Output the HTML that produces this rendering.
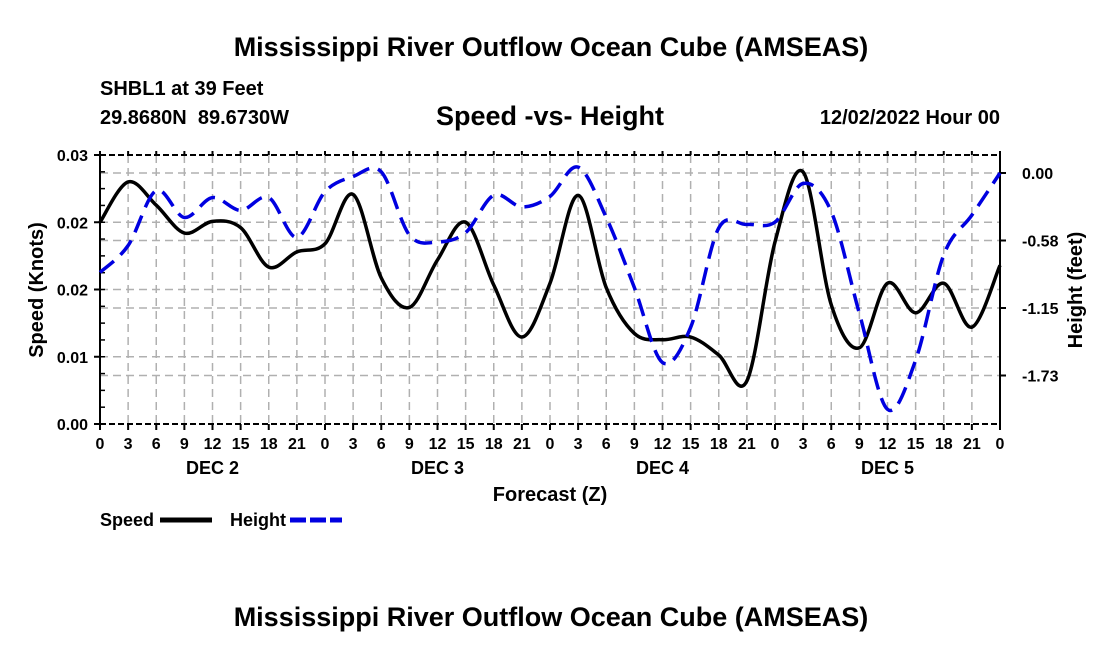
<!DOCTYPE html>
<html><head><meta charset="utf-8"><style>
body{margin:0;background:#fff;}
svg text{font-family:"Liberation Sans",Arial,sans-serif;font-weight:bold;fill:#000;}
</style></head><body>
<svg width="1100" height="650" viewBox="0 0 1100 650" xmlns="http://www.w3.org/2000/svg">
<text x="551" y="56" font-size="27" text-anchor="middle">Mississippi River Outflow Ocean Cube (AMSEAS)</text>
<text x="100" y="95" font-size="20">SHBL1 at 39 Feet</text>
<text x="100" y="124" font-size="20">29.8680N&#160;&#160;89.6730W</text>
<text x="550" y="125" font-size="27" text-anchor="middle">Speed -vs- Height</text>
<text x="1000" y="124" font-size="20" text-anchor="end">12/02/2022 Hour 00</text>
<g id="grid"></g>
<g id="axes"></g>
<g id="series"></g>
<text x="550" y="501" font-size="20" text-anchor="middle">Forecast (Z)</text>
<text transform="translate(43,290) rotate(-90)" font-size="20" text-anchor="middle">Speed (Knots)</text>
<text transform="translate(1082,290) rotate(-90)" font-size="20" text-anchor="middle">Height (feet)</text>
<g><text x="100" y="526" font-size="18">Speed</text><line x1="160" y1="520" x2="212" y2="520" stroke="#000" stroke-width="5"/></g>
<g><text x="230" y="526" font-size="18">Height</text><line x1="290" y1="520" x2="342" y2="520" stroke="#0000e0" stroke-width="5" stroke-dasharray="16,4"/></g>
<text x="551" y="626" font-size="27" text-anchor="middle">Mississippi River Outflow Ocean Cube (AMSEAS)</text>
</svg>
<script>
const hours=[0,3,6,9,12,15,18,21,24,27,30,33,36,39,42,45,48,51,54,57,60,63,66,69,72,75,78,81,84,87,90,93,96];
const speed=[0.0225,0.0270,0.0244,0.0213,0.0226,0.0219,0.0175,0.0192,0.0201,0.0256,0.0163,0.0130,0.0183,0.0225,0.0155,0.0097,0.0157,0.0255,0.0152,0.0101,0.0094,0.0097,0.0077,0.0048,0.0203,0.0281,0.0133,0.0085,0.0157,0.0124,0.0157,0.0108,0.0177];
const height=[-0.85,-0.62,-0.15,-0.38,-0.21,-0.32,-0.21,-0.55,-0.16,-0.03,0.01,-0.53,-0.59,-0.51,-0.19,-0.29,-0.2,0.05,-0.38,-0.98,-1.62,-1.32,-0.47,-0.44,-0.42,-0.09,-0.33,-1.2,-2.02,-1.6,-0.70,-0.36,0.0];
const leftTicks=[0,0.0075,0.015,0.0225,0.03];
const leftLabels=["0.00","0.01","0.02","0.02","0.03"];
const rightTicks=[0,-0.577,-1.154,-1.731];
const rightLabels=["0.00","-0.58","-1.15","-1.73"];
const dayLabels=["DEC 2","DEC 3","DEC 4","DEC 5"];
const X0=100,X1=1000,YT=155,YB=424;
const xS=h=>X0+h/96*(X1-X0);
const yL=v=>YB-v/0.03*(YB-YT);
const yR=h=>173-h*(67.5/0.577);
const NS="http://www.w3.org/2000/svg";
function mk(tag,attrs,parent){const e=document.createElementNS(NS,tag);for(const k in attrs)e.setAttribute(k,attrs[k]);parent.appendChild(e);return e;}
const grid=document.getElementById('grid'),axes=document.getElementById('axes'),series=document.getElementById('series');
const gs={stroke:"#b0b0b0","stroke-width":1.5,"stroke-dasharray":"8,5"};
for(let h=3;h<96;h+=3){const l=mk('line',Object.assign({x1:xS(h),x2:xS(h),y1:YT,y2:YB},gs),grid);

}
leftTicks.slice(1,4).forEach(v=>{const l=mk('line',Object.assign({x1:X0,x2:X1,y1:yL(v),y2:yL(v)},gs),grid);

});
rightTicks.forEach(v=>{const l=mk('line',Object.assign({x1:X0,x2:X1,y1:yR(v),y2:yR(v)},gs),grid);

});
mk('line',{x1:X0,x2:X0,y1:YT,y2:YB,stroke:"#000","stroke-width":2},axes);
mk('line',{x1:X1,x2:X1,y1:YT,y2:YB,stroke:"#000","stroke-width":2},axes);
mk('line',{x1:X0,x2:X1,y1:YB,y2:YB,stroke:"#000","stroke-width":2,"stroke-dasharray":"6,3"},axes);
mk('line',{x1:X0,x2:X1,y1:YT,y2:YT,stroke:"#000","stroke-width":2,"stroke-dasharray":"6,3"},axes);
leftTicks.forEach((v,i)=>{mk('line',{x1:X0-6,x2:X0,y1:yL(v),y2:yL(v),stroke:"#000","stroke-width":2},axes);
const t=mk('text',{x:X0-12,y:yL(v)+6,"font-size":16,"text-anchor":"end"},axes);t.textContent=leftLabels[i];

});
for(let i=0;i<16;i++){const v=i*0.03/16;mk('line',{x1:X0,x2:X0+5,y1:yL(v),y2:yL(v),stroke:"#000","stroke-width":1.5},axes);}
rightTicks.forEach((v,i)=>{mk('line',{x1:X1,x2:X1+6,y1:yR(v),y2:yR(v),stroke:"#000","stroke-width":2},axes);
const t=mk('text',{x:X1+22,y:yR(v)+6,"font-size":16},axes);t.textContent=rightLabels[i];

});
for(let h=0;h<=96;h+=3){mk('line',{x1:xS(h),x2:xS(h),y1:YB,y2:YB+6,stroke:"#000","stroke-width":2},axes);
mk('line',{x1:xS(h),x2:xS(h),y1:YT-4,y2:YT,stroke:"#000","stroke-width":2},axes);
const t=mk('text',{x:xS(h),y:YB+25,"font-size":16,"text-anchor":"middle"},axes);t.textContent=String(h%24);

}
dayLabels.forEach((d,i)=>{const t=mk('text',{x:xS(i*24+12),y:YB+50,"font-size":18,"text-anchor":"middle"},axes);t.textContent=d;

});
function smooth(pts){let d="M"+pts[0][0]+","+pts[0][1];
for(let i=0;i<pts.length-1;i++){const p0=pts[Math.max(0,i-1)],p1=pts[i],p2=pts[i+1],p3=pts[Math.min(pts.length-1,i+2)];
d+=" C"+(p1[0]+(p2[0]-p0[0])/6)+","+(p1[1]+(p2[1]-p0[1])/6)+" "+(p2[0]-(p3[0]-p1[0])/6)+","+(p2[1]-(p3[1]-p1[1])/6)+" "+p2[0]+","+p2[1];}
return d;}
const sp=mk('path',{d:smooth(hours.map((h,i)=>[xS(h),yL(speed[i])])),fill:"none",stroke:"#000","stroke-width":3.5},series);


const hp=mk('path',{d:smooth(hours.map((h,i)=>[xS(h),yR(height[i])])),fill:"none",stroke:"#0000e0","stroke-width":3.5,"stroke-dasharray":"18,9"},series);


</script>
</body></html>
